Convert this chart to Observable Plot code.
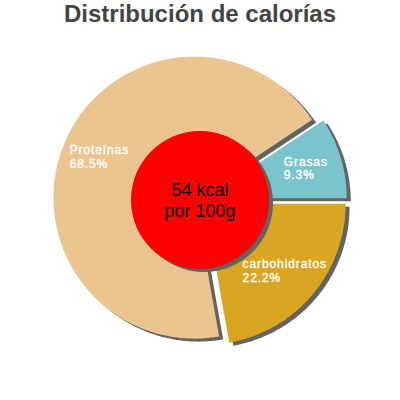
<!DOCTYPE html>
<html><head><meta charset="utf-8">
<script src="https://cdn.jsdelivr.net/npm/d3@7"></script>
<script src="https://cdn.jsdelivr.net/npm/@observablehq/plot@0.6"></script>
<style>
body{margin:0;background:#fff;}
#title{height:30px;line-height:34px;text-align:center;font:bold 24px "Liberation Sans",Arial,sans-serif;color:#444;white-space:nowrap;}
#chart svg{display:block;}
</style></head><body>
<div id="title"></div>
<div id="chart"></div>
<script>
// ---- data ----
const titleText = "Distribución de calorías";
const categories = ["carbohidratos", "Proteínas", "Grasas"];
const percents = [22.2, 68.5, 9.3];
const colors = ["#daa520", "#ecc490", "#7ac4cc"];
const energyKcal = 54;
const energyUnit = "kcal";
const perLabel = "por 100g";

// ---- layout ----
const W = 400, H = 370;
const cx = 199.5, cy = 169.5;
const R = 141, explode = 6, labelR = 110, holeR = 69;
const sdx = 4, sdy = 3;
const ls = 0.9;
const font = "'Liberation Sans', Arial, sans-serif";

document.getElementById("title").textContent = titleText;

const rows = categories.map((name, i) => ({name, value: percents[i]}));
const pie = d3.pie().sort(null).value(d => d.value)
  .startAngle(Math.PI / 2).endAngle(Math.PI / 2 + 2 * Math.PI);
const arcs = pie(rows);

const slicePts = [];
for (const a of arcs) {
  const mid = (a.startAngle + a.endAngle) / 2;
  const ox = Math.sin(mid) * explode, oy = Math.cos(mid) * explode;
  slicePts.push({name: a.data.name, x: ox, y: oy});
  const n = Math.max(2, Math.ceil((a.endAngle - a.startAngle) / (Math.PI / 180)));
  for (let k = 0; k <= n; k++) {
    const t = a.startAngle + (a.endAngle - a.startAngle) * k / n;
    slicePts.push({name: a.data.name, x: ox + Math.sin(t) * R, y: oy + Math.cos(t) * R});
  }
}
const shadowPts = slicePts.map(p => ({name: p.name, x: p.x + sdx, y: p.y - sdy}));

const ctx = document.createElement("canvas").getContext("2d");
ctx.font = "12px 'Liberation Sans'";
const labels = arcs.map(a => {
  const mid = (a.startAngle + a.endAngle) / 2;
  const text = `${a.data.name}\n${a.data.value}%`;
  const w = Math.max(...text.split("\n").map(s => ctx.measureText(s).width + ls * (s.length - 1)));
  return {text, x: Math.sin(mid) * labelR - w / 2, y: Math.cos(mid) * labelR};
});
const center = [{x: 0, y: 0, text: `${energyKcal} ${energyUnit}\n${perLabel}`}];

const chart = Plot.plot({
  width: W, height: H,
  margin: 0,
  style: {fontFamily: font, background: "white", overflow: "visible"},
  x: {domain: [-cx, W - cx], range: [0, W], axis: null},
  y: {domain: [-(H - cy), cy], range: [H, 0], axis: null},
  color: {domain: categories, range: colors},
  marks: [
    Plot.line(shadowPts, {x: "x", y: "y", z: "name", fill: "#636363", stroke: "none", curve: "linear-closed"}),
    Plot.line(slicePts, {x: "x", y: "y", z: "name", fill: "name", stroke: "none", curve: "linear-closed"}),
    Plot.dot(center, {x: d => d.x + sdx, y: d => d.y - sdy, r: holeR, fill: "#636363", stroke: "none"}),
    Plot.dot(center, {x: "x", y: "y", r: holeR, fill: "#ff0000", stroke: "none"}),
    Plot.text(center, {x: "x", y: "y", text: "text", fontSize: 18, fill: "black", lineHeight: 1.12, lineAnchor: "middle"}),
    Plot.text(labels, {x: "x", y: "y", text: "text", fontSize: 12, fill: "white", stroke: "white", strokeWidth: 0.35, textAnchor: "start", lineAnchor: "middle", lineHeight: 1.12})
  ]
});
d3.select(chart).selectAll("g[aria-label='text']").filter((d, i) => i === 1)
  .style("letter-spacing", ls + "px");
document.getElementById("chart").appendChild(chart);
</script>
</body></html>
